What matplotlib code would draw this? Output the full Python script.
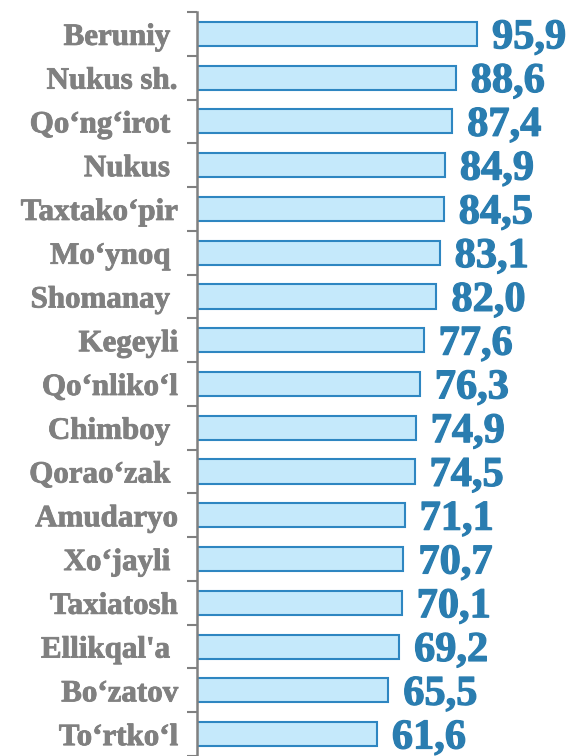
import matplotlib
matplotlib.use("Agg")
import matplotlib.pyplot as plt
import matplotlib.patheffects as pe

categories = ["Beruniy ", "Nukus sh.", "Qo‘ng‘irot ", "Nukus ", "Taxtako‘pir", "Mo‘ynoq ",
              "Shomanay ", "Kegeyli", "Qo‘nliko‘l", "Chimboy ", "Qorao‘zak ", "Amudaryo",
              "Xo‘jayli ", "Taxiatosh", "Ellikqal'a ", "Bo‘zatov", "To‘rtko‘l"]
values = [95.9, 88.6, 87.4, 84.9, 84.5, 83.1, 82.0, 77.6, 76.3, 74.9, 74.5, 71.1,
          70.7, 70.1, 69.2, 65.5, 61.6]
value_labels = ["95,9", "88,6", "87,4", "84,9", "84,5", "83,1", "82,0", "77,6", "76,3",
                "74,9", "74,5", "71,1", "70,7", "70,1", "69,2", "65,5", "61,6"]

W, H = 569, 756
fig = plt.figure(figsize=(W / 100, H / 100), dpi=100)
left = 197 / W
top = 1 - 12 / H
ax = fig.add_axes([left, 0, 1 - left, top])

pos = list(range(len(categories)))
ax.barh(pos, values, height=0.55, color="#C5E9FB", edgecolor="#2E86C1", linewidth=1.5)

ax.set_xlim(0, (W - 197) / 2.92)
ax.set_ylim(16 + 19 / 43.94, -0.5)

vcol = "#2A7DB0"
for p, v, lab in zip(pos, values, value_labels):
    ax.text(v + 15 / 2.92, p + 0.1, lab, va="center", ha="left",
            fontfamily="Liberation Serif", fontweight="bold", fontsize=30.5, color=vcol,
            path_effects=[pe.withStroke(linewidth=0.9, foreground=vcol)])

ax.set_yticks(pos)
ax.set_yticklabels(categories, fontfamily="Liberation Serif", fontweight="bold",
                   fontsize=22.3, color="#808080")
for t in ax.get_yticklabels():
    t.set_path_effects([pe.withStroke(linewidth=0.6, foreground="#808080")])
ax.set_yticks([p - 0.5 for p in pos] + [16.5], minor=True)
ax.tick_params(axis="y", which="major", length=0, pad=13.7)
ax.tick_params(axis="y", which="minor", length=7, width=1.5, color="#808080", direction="out")
ax.set_xticks([])
for s in ["top", "right", "bottom"]:
    ax.spines[s].set_visible(False)
ax.spines["left"].set_color("#808080")
ax.spines["left"].set_linewidth(1.8)

fig.savefig("out.png", dpi=100)
